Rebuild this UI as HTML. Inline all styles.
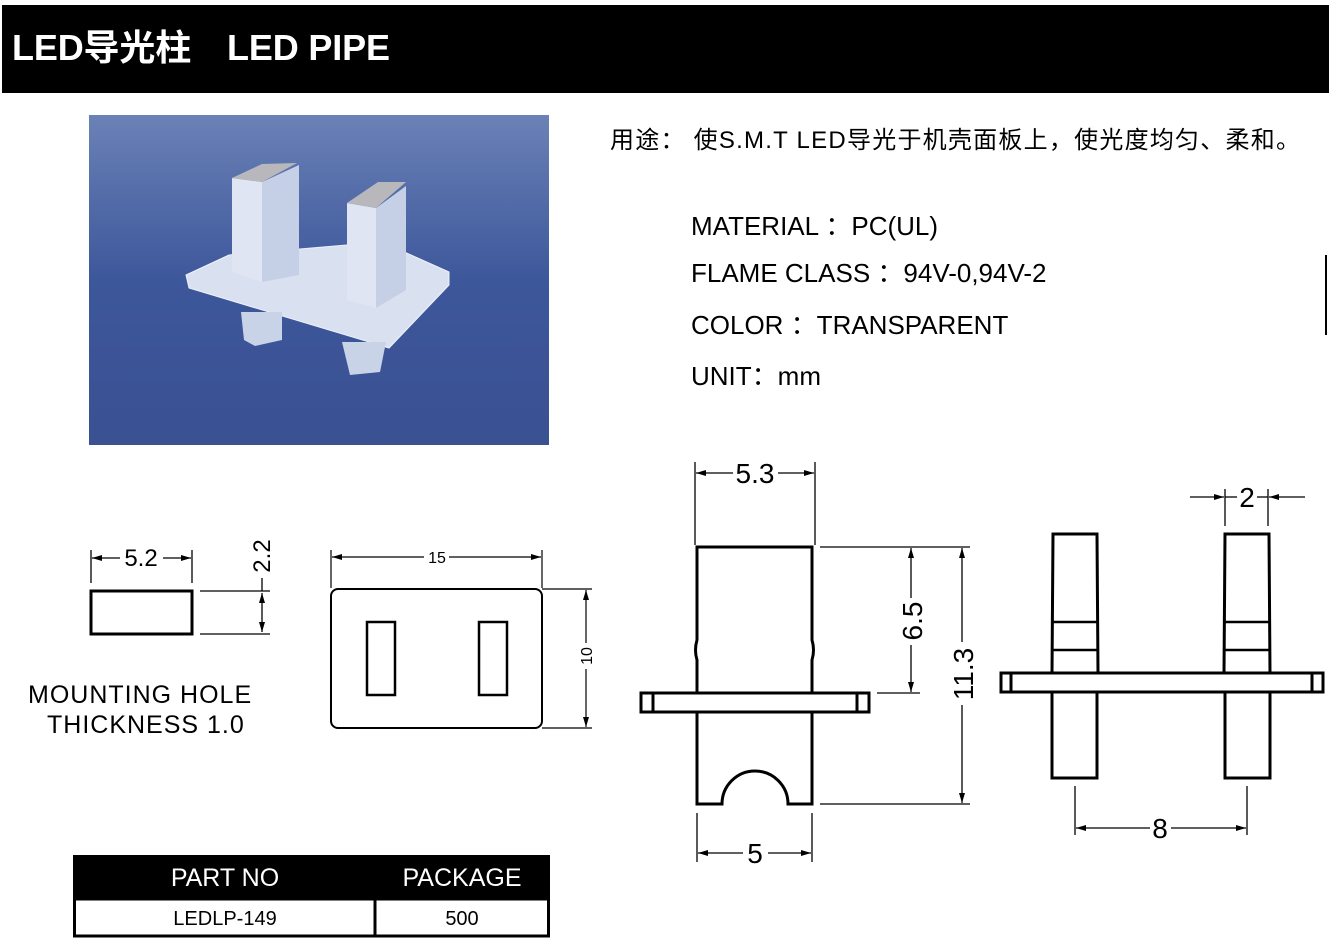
<!DOCTYPE html>
<html><head><meta charset="utf-8"><style>
html,body{margin:0;padding:0;background:#fff;}
svg{display:block;}
text{font-family:"Liberation Sans","Noto Sans CJK SC",sans-serif;}
</style></head><body>
<svg width="1329" height="946" viewBox="0 0 1329 946" xmlns="http://www.w3.org/2000/svg">
<defs>
<marker id="a" viewBox="0 0 10 6" refX="10" refY="3" markerWidth="14" markerHeight="6" markerUnits="userSpaceOnUse" orient="auto-start-reverse"><path d="M0,0L10,3L0,6Z" fill="#000"/></marker>
<linearGradient id="bg" x1="0" y1="0" x2="0" y2="1"><stop offset="0" stop-color="#6a82b6"/><stop offset="0.5" stop-color="#3d579b"/><stop offset="1" stop-color="#3a5192"/></linearGradient>
</defs>
<rect x="2" y="5" width="1327" height="88" fill="#000"/>
<text x="12" y="60" fill="#fff" font-size="36" font-weight="bold" textLength="378" lengthAdjust="spacing">LED导光柱　LED PIPE</text>
<line x1="1326" y1="255" x2="1326" y2="335" stroke="#000" stroke-width="2"/>

<!-- photo -->
<rect x="89" y="115" width="460" height="330" fill="url(#bg)"/>
<g>
<polygon points="186,275 229,255 382,242 449,272 449,285 389,348 189,288" fill="#d9e0ef" stroke="#eef2fa" stroke-width="1"/>
<polygon points="241,312 282,312 282,340 255,346 244,340" fill="#c9d3e8"/>
<polygon points="342,342 386,342 380,372 350,375" fill="#c9d3e8"/>
<polygon points="232,178 262,182 262,282 232,272" fill="#dfe5f2"/>
<polygon points="262,182 299,165 299,275 262,282" fill="#c5d0e6"/>
<polygon points="232,178 262,164 297,163 262,182" fill="#b8b8bc"/>
<polygon points="347,203 376,208 376,308 347,300" fill="#dfe5f2"/>
<polygon points="376,208 406,186 406,290 376,308" fill="#c5d0e6"/>
<polygon points="347,203 378,182 406,182 376,208" fill="#b8b8bc"/>
</g>

<text x="610" y="148" font-size="24" textLength="690" lengthAdjust="spacing">用途： 使S.M.T LED导光于机壳面板上，使光度均匀、柔和。</text>
<text x="691" y="235" font-size="26">MATERIAL  ：PC(UL)</text>
<text x="691" y="282" font-size="26">FLAME CLASS  ：94V-0,94V-2</text>
<text x="691" y="334" font-size="26">COLOR  ：TRANSPARENT</text>
<text x="691" y="385" font-size="26">UNIT：mm</text>

<!-- left small mounting hole -->
<g fill="none" stroke="#000">
<rect x="91" y="591" width="101" height="43" stroke-width="3"/>
<line x1="91" y1="550" x2="91" y2="583" stroke-width="1.3"/>
<line x1="192" y1="550" x2="192" y2="583" stroke-width="1.3"/>
<line x1="92" y1="558" x2="120" y2="558" stroke-width="1.3" marker-start="url(#a)"/>
<line x1="163" y1="558" x2="191" y2="558" stroke-width="1.3" marker-end="url(#a)"/>
<line x1="200" y1="591" x2="240" y2="591" stroke-width="1.3"/>
<line x1="200" y1="634" x2="240" y2="634" stroke-width="1.3"/>
<line x1="262" y1="578" x2="262" y2="591" stroke-width="1.3"/>
<line x1="262" y1="593" x2="262" y2="632" stroke-width="1.3" marker-start="url(#a)" marker-end="url(#a)"/>
<line x1="240" y1="591" x2="270" y2="591" stroke-width="1.3"/>
<line x1="240" y1="634" x2="270" y2="634" stroke-width="1.3"/>
</g>
<text x="141" y="566" font-size="24" text-anchor="middle">5.2</text>
<text transform="translate(270,556) rotate(-90)" font-size="24" text-anchor="middle">2.2</text>
<text x="28" y="703" font-size="25" font-weight="300" letter-spacing="1">MOUNTING  HOLE</text>
<text x="47" y="733" font-size="25" font-weight="300" letter-spacing="1">THICKNESS  1.0</text>

<!-- plate top view -->
<g fill="none" stroke="#000">
<rect x="331" y="589" width="211" height="139" rx="7" stroke-width="2"/>
<rect x="367" y="622" width="28" height="73" stroke-width="2.5"/>
<rect x="479" y="622" width="28" height="73" stroke-width="2.5"/>
<line x1="331" y1="550" x2="331" y2="588" stroke-width="1.2"/>
<line x1="542" y1="550" x2="542" y2="588" stroke-width="1.2"/>
<line x1="332" y1="557" x2="424" y2="557" stroke-width="1.2" marker-start="url(#a)"/>
<line x1="449" y1="557" x2="541" y2="557" stroke-width="1.2" marker-end="url(#a)"/>
<line x1="542" y1="589" x2="592" y2="589" stroke-width="1.2"/>
<line x1="542" y1="728" x2="592" y2="728" stroke-width="1.2"/>
<line x1="586" y1="590" x2="586" y2="643" stroke-width="1.2" marker-start="url(#a)"/>
<line x1="586" y1="669" x2="586" y2="727" stroke-width="1.2" marker-end="url(#a)"/>
</g>
<text x="437" y="563" font-size="16" text-anchor="middle">15</text>
<text transform="translate(592,656) rotate(-90)" font-size="16" text-anchor="middle">10</text>

<!-- front view -->
<g fill="none" stroke="#000">
<path d="M697,693 L697,660 Q694,650 697,640 L697,547 L812,547 L812,640 Q815,650 812,660 L812,693" stroke-width="3"/>
<rect x="641" y="693" width="228" height="19" stroke-width="3"/>
<line x1="653" y1="693" x2="653" y2="712" stroke-width="3"/>
<line x1="857" y1="693" x2="857" y2="712" stroke-width="3"/>
<path d="M697,712 L697,804 L722,804 A33,33 0 0 1 788,804 L812,804 L812,712" stroke-width="3"/>
<line x1="695" y1="462" x2="695" y2="545" stroke-width="1.3"/>
<line x1="815" y1="462" x2="815" y2="545" stroke-width="1.3"/>
<line x1="696" y1="473" x2="733" y2="473" stroke-width="1.3" marker-start="url(#a)"/>
<line x1="778" y1="473" x2="814" y2="473" stroke-width="1.3" marker-end="url(#a)"/>
<line x1="820" y1="547" x2="970" y2="547" stroke-width="1.3"/>
<line x1="877" y1="693" x2="920" y2="693" stroke-width="1.3"/>
<line x1="820" y1="804" x2="970" y2="804" stroke-width="1.3"/>
<line x1="911" y1="548" x2="911" y2="598" stroke-width="1.3" marker-start="url(#a)"/>
<line x1="911" y1="645" x2="911" y2="692" stroke-width="1.3" marker-end="url(#a)"/>
<line x1="962" y1="548" x2="962" y2="642" stroke-width="1.3" marker-start="url(#a)"/>
<line x1="962" y1="705" x2="962" y2="803" stroke-width="1.3" marker-end="url(#a)"/>
<line x1="697" y1="813" x2="697" y2="862" stroke-width="1.3"/>
<line x1="812" y1="813" x2="812" y2="862" stroke-width="1.3"/>
<line x1="698" y1="853" x2="743" y2="853" stroke-width="1.3" marker-start="url(#a)"/>
<line x1="768" y1="853" x2="811" y2="853" stroke-width="1.3" marker-end="url(#a)"/>
</g>
<text x="755" y="483" font-size="28" text-anchor="middle">5.3</text>
<text transform="translate(922,621) rotate(-90)" font-size="28" text-anchor="middle">6.5</text>
<text transform="translate(973,674) rotate(-90)" font-size="28" text-anchor="middle">11.3</text>
<text x="755" y="863" font-size="28" text-anchor="middle">5</text>

<!-- side view -->
<g fill="none" stroke="#000">
<path d="M1052,673 L1053,534 L1097,534 L1098,673" stroke-width="3"/>
<line x1="1053" y1="622" x2="1097" y2="622" stroke-width="2.5"/>
<line x1="1053" y1="650" x2="1097" y2="650" stroke-width="2.5"/>
<path d="M1052,692 L1052,778 L1097,778 L1097,692" stroke-width="3"/>
<path d="M1224,673 L1225,534 L1269,534 L1270,673" stroke-width="3"/>
<line x1="1225" y1="622" x2="1269" y2="622" stroke-width="2.5"/>
<line x1="1225" y1="650" x2="1269" y2="650" stroke-width="2.5"/>
<path d="M1225,692 L1225,778 L1270,778 L1270,692" stroke-width="3"/>
<rect x="1001" y="673" width="322" height="19" stroke-width="3"/>
<line x1="1011" y1="673" x2="1011" y2="692" stroke-width="3"/>
<line x1="1312" y1="673" x2="1312" y2="692" stroke-width="3"/>
<line x1="1225" y1="489" x2="1225" y2="526" stroke-width="1.3"/>
<line x1="1268" y1="489" x2="1268" y2="526" stroke-width="1.3"/>
<line x1="1190" y1="497" x2="1224" y2="497" stroke-width="1.3" marker-end="url(#a)"/>
<line x1="1305" y1="497" x2="1269" y2="497" stroke-width="1.3" marker-end="url(#a)"/>
<line x1="1225" y1="497" x2="1237" y2="497" stroke-width="1.3"/>
<line x1="1257" y1="497" x2="1268" y2="497" stroke-width="1.3"/>
<line x1="1075" y1="786" x2="1075" y2="835" stroke-width="1.3"/>
<line x1="1247" y1="786" x2="1247" y2="835" stroke-width="1.3"/>
<line x1="1076" y1="828" x2="1150" y2="828" stroke-width="1.3" marker-start="url(#a)"/>
<line x1="1171" y1="828" x2="1246" y2="828" stroke-width="1.3" marker-end="url(#a)"/>
</g>
<text x="1247" y="507" font-size="28" text-anchor="middle">2</text>
<text x="1160" y="838" font-size="28" text-anchor="middle">8</text>

<!-- table -->
<rect x="73" y="855" width="477" height="44" fill="#000"/>
<text x="225" y="886" font-size="25" fill="#fff" text-anchor="middle">PART NO</text>
<text x="462" y="886" font-size="25" fill="#fff" text-anchor="middle">PACKAGE</text>
<rect x="74.5" y="899" width="474" height="37" fill="none" stroke="#000" stroke-width="3"/>
<line x1="375" y1="899" x2="375" y2="936" stroke="#000" stroke-width="3"/>
<text x="225" y="925" font-size="20" text-anchor="middle">LEDLP-149</text>
<text x="462" y="925" font-size="20" text-anchor="middle">500</text>
</svg>
</body></html>
